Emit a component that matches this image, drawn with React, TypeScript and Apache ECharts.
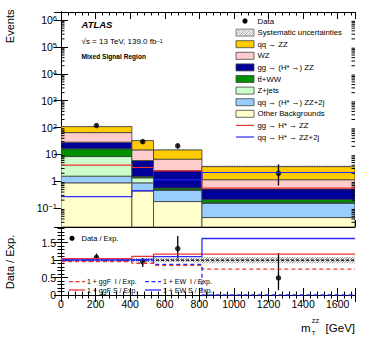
import React, { useEffect, useRef } from "react";
import * as echarts from "echarts";

// ---------------- data ----------------
const binEdges = [0, 410, 535, 815, 1700];

// stacked backgrounds, bottom -> top
const otherBackgrounds = [0.88, 0.44, 0.177, 0.045];
const qqZZ2jBkg = [0.68, 0.44, 0.29, 0.11];
const zJets = [6.8, 0.47, 0.01, 0.005];
const ttWW = [7.85, 0.16, 0.09, 0.05];
const ggZZ = [12.5, 4.42, 1.96, 0.31];
const wzBkg = [36.5, 8.87, 4.17, 0.63];
const qqZZ = [43.8, 18.1, 8.1, 2.41];

const sysRel = [0.05, 0.06, 0.06, 0.09];

const dataValues = [119, 30, 21, 2];
const dataLow = [108.5, 24.6, 16.4, 0.7];
const dataHigh = [130, 35.5, 25.6, 4.3];

const ggSignal = [4.0, 3.26, 2.45, 0.56];
const ewSignal = [0.27, 0.45, 1.14, 2.12];

const ratioData = [1.077, 0.95, 1.33, 0.49];
const ratioLow = [0.98, 0.8, 1.05, 0.14];
const ratioHigh = [1.19, 1.06, 1.69, 1.2];
const ggfInterference = [0.96, 0.91, 0.85, 0.74];
const ggfSignalRatio = [1.04, 1.11, 1.17, 1.17];
const ewInterference = [0.995, 0.985, 0.88, 0];
const ewSignalRatio = [1.01, 1.03, 1.1, 1.62];

const stackNames = [
  "Other Backgrounds",
  "qq → (H* →) ZZ+2j",
  "Z+jets",
  "tt̄+WW",
  "gg → (H* →) ZZ",
  "WZ",
  "qq → ZZ",
];
const stackColors = ["#ffffcc", "#99ccff", "#ccffcc", "#009100", "#000099", "#ffcccc", "#ffcc00"];
const stackValues = [otherBackgrounds, qqZZ2jBkg, zJets, ttWW, ggZZ, wzBkg, qqZZ];

const RED = "#ee3333";
const BLUE = "#2b2bff";
const FONT = "'Liberation Sans', Arial, Helvetica, sans-serif";

const Y_MIN = 0.02;
const Y_MAX = 2e6;
const X_MAX = 1700;

// ---------------- helpers ----------------
function hatchLines(L: number, T: number, R: number, B: number, step: number, stroke: string, lw: number) {
  const out: any[] = [];
  const c0 = Math.ceil((L + T) / step) * step;
  for (let c = c0; c < R + B; c += step) {
    const xa = Math.max(L, c - B);
    const xb = Math.min(R, c - T);
    if (xb > xa) {
      out.push({ type: "line", shape: { x1: xa, y1: c - xa, x2: xb, y2: c - xb }, style: { stroke, lineWidth: lw } });
    }
  }
  return out;
}

function rectRender(color: string) {
  return (_p: any, api: any) => {
    const a = api.coord([api.value(0), api.value(3)]);
    const b = api.coord([api.value(1), api.value(2)]);
    return {
      type: "rect",
      shape: { x: a[0], y: a[1], width: b[0] - a[0], height: b[1] - a[1] },
      style: { fill: color, stroke: "#3a3a3a", lineWidth: 0.8 },
    };
  };
}

function hatchRender(step: number) {
  return (_p: any, api: any) => {
    const a = api.coord([api.value(0), api.value(3)]);
    const b = api.coord([api.value(1), api.value(2)]);
    return { type: "group", children: hatchLines(a[0], a[1], b[0], b[1], step, "#555", 0.7) };
  };
}

function errRender(_p: any, api: any) {
  const a = api.coord([api.value(0), api.value(1)]);
  const b = api.coord([api.value(0), api.value(2)]);
  return { type: "line", shape: { x1: a[0], y1: a[1], x2: b[0], y2: b[1] }, style: { stroke: "#000", lineWidth: 1.3 } };
}

function stepData(vals: number[]) {
  const d = vals.map((v, i) => [binEdges[i], v]);
  d.push([binEdges[binEdges.length - 1], vals[vals.length - 1]]);
  return d;
}

function centers() {
  return binEdges.slice(0, -1).map((e, i) => (e + binEdges[i + 1]) / 2);
}

function buildOption() {
  const nb = binEdges.length - 1;
  const cum: number[][] = [];
  stackValues.forEach((vals, k) => {
    cum.push(vals.map((v, i) => (k === 0 ? 0 : cum[k - 1][i]) + v));
  });
  const total = cum[cum.length - 1];
  const xc = centers();

  const series: any[] = [];
  stackValues.forEach((_vals, k) => {
    const data = [];
    for (let i = 0; i < nb; i++) {
      const lo = k === 0 ? Y_MIN : cum[k - 1][i];
      data.push([binEdges[i], binEdges[i + 1], lo, cum[k][i]]);
    }
    series.push({
      type: "custom",
      name: stackNames[k],
      xAxisIndex: 0,
      yAxisIndex: 0,
      clip: true,
      encode: { x: [0, 1], y: [2, 3] },
      renderItem: rectRender(stackColors[k]),
      data,
    });
  });
  // systematic band main
  series.push({
    type: "custom",
    name: "Systematic uncertainties",
    xAxisIndex: 0,
    yAxisIndex: 0,
    clip: true,
    encode: { x: [0, 1], y: [2, 3] },
    renderItem: hatchRender(2.5),
    data: total.map((t, i) => [binEdges[i], binEdges[i + 1], t * (1 - sysRel[i]), t * (1 + sysRel[i])]),
  });
  series.push({
    type: "line",
    name: "gg → H* → ZZ",
    xAxisIndex: 0,
    yAxisIndex: 0,
    step: "end",
    showSymbol: false,
    lineStyle: { color: RED, width: 1.1 },
    data: stepData(ggSignal),
  });
  series.push({
    type: "line",
    name: "qq → H* → ZZ+2j",
    xAxisIndex: 0,
    yAxisIndex: 0,
    step: "end",
    showSymbol: false,
    lineStyle: { color: BLUE, width: 1.1 },
    data: stepData(ewSignal),
  });
  series.push({
    type: "custom",
    xAxisIndex: 0,
    yAxisIndex: 0,
    clip: true,
    encode: { x: 0, y: [1, 2] },
    renderItem: errRender,
    data: xc.map((x, i) => [x, dataLow[i], dataHigh[i]]),
  });
  series.push({
    type: "scatter",
    name: "Data",
    xAxisIndex: 0,
    yAxisIndex: 0,
    symbol: "circle",
    symbolSize: 5.5,
    itemStyle: { color: "#000" },
    data: xc.map((x, i) => [x, dataValues[i]]),
  });
  // log minor ticks (axis decoration)
  const minorVals: number[][] = [];
  for (let e = -2; e <= 6; e++) {
    for (let m = 2; m <= 9; m++) {
      const v = m * Math.pow(10, e);
      if (v > Y_MIN && v < Y_MAX) minorVals.push([0, v]);
    }
  }
  series.push({
    type: "custom",
    xAxisIndex: 0,
    yAxisIndex: 0,
    encode: { x: 0, y: 1 },
    renderItem: (_p: any, api: any) => {
      const l = api.coord([0, api.value(1)]);
      const r = api.coord([X_MAX, api.value(1)]);
      return {
        type: "group",
        children: [
          { type: "line", shape: { x1: l[0], y1: l[1], x2: l[0] + 3.5, y2: l[1] }, style: { stroke: "#000", lineWidth: 1 } },
          { type: "line", shape: { x1: r[0] - 3.5, y1: r[1], x2: r[0], y2: r[1] }, style: { stroke: "#000", lineWidth: 1 } },
        ],
      };
    },
    data: minorVals,
  });

  // ---------- ratio panel ----------
  series.push({
    type: "custom",
    xAxisIndex: 2,
    yAxisIndex: 2,
    clip: true,
    encode: { x: [0, 1], y: [2, 3] },
    renderItem: hatchRender(2.5),
    data: sysRel.map((s, i) => [binEdges[i], binEdges[i + 1], 1 - s, 1 + s]),
  });
  series.push({
    type: "line",
    xAxisIndex: 2,
    yAxisIndex: 2,
    showSymbol: false,
    lineStyle: { color: "#000", width: 1.2, type: [3, 2] },
    data: [
      [0, 1],
      [X_MAX, 1],
    ],
  });
  const ratioLines: [number[], string, any][] = [
    [ggfInterference, RED, [4, 3]],
    [ewInterference, BLUE, [4, 3]],
    [ggfSignalRatio, RED, "solid"],
    [ewSignalRatio, BLUE, "solid"],
  ];
  ratioLines.forEach(([vals, col, type]) => {
    series.push({
      type: "line",
      xAxisIndex: 2,
      yAxisIndex: 2,
      step: "end",
      showSymbol: false,
      lineStyle: { color: col, width: 1.3, type },
      data: stepData(vals),
    });
  });
  series.push({
    type: "custom",
    xAxisIndex: 2,
    yAxisIndex: 2,
    clip: true,
    encode: { x: 0, y: [1, 2] },
    renderItem: errRender,
    data: xc.map((x, i) => [x, ratioLow[i], ratioHigh[i]]),
  });
  series.push({
    type: "scatter",
    xAxisIndex: 2,
    yAxisIndex: 2,
    symbol: "circle",
    symbolSize: 5.5,
    itemStyle: { color: "#000" },
    data: xc.map((x, i) => [x, ratioData[i]]),
  });

  const tickStyle = { lineStyle: { color: "#000", width: 1 } };
  const xAxisBase = (grid: number, position: string, labels: boolean) => ({
    gridIndex: grid,
    type: "value",
    position,
    min: 0,
    max: X_MAX,
    interval: 200,
    axisLine: { lineStyle: { color: "#000", width: 1 } },
    axisTick: { inside: true, length: 7, ...tickStyle },
    minorTick: { show: true, splitNumber: 5, length: 3.5, ...tickStyle },
    splitLine: { show: false },
    minorSplitLine: { show: false },
    axisLabel: labels
      ? {
          show: true,
          fontSize: 10.5,
          color: "#000",
          fontFamily: FONT,
          margin: 3,
          showMaxLabel: false,
          formatter: (v: number) => String(Math.round(v)),
        }
      : { show: false },
  });
  const supRich = {
    base: { fontSize: 10.5, fontFamily: FONT, color: "#000" },
    sup: { fontSize: 7.5, fontFamily: FONT, color: "#000", verticalAlign: "top", padding: [0, 0, 2, 0] },
  };
  const yLog = (position: string, labels: boolean) => ({
    gridIndex: 0,
    type: "log",
    logBase: 10,
    position,
    min: Y_MIN,
    max: Y_MAX,
    splitNumber: 10,
    axisLine: { lineStyle: { color: "#000", width: 1 } },
    axisTick: { inside: true, length: 7, ...tickStyle },
    minorTick: { show: false },
    splitLine: { show: false },
    axisLabel: labels
      ? {
          show: true,
          margin: 4,
          showMinLabel: false,
          showMaxLabel: false,
          fontSize: 10.5,
          fontFamily: FONT,
          color: "#000",
          formatter: (v: number) => {
            const e = Math.round(Math.log10(v));
            if (e === 0) return "{base|1}";
            if (e === 1) return "{base|10}";
            return "{base|10}{sup|" + (e < 0 ? "−" + -e : String(e)) + "}";
          },
          rich: supRich,
        }
      : { show: false },
  });
  const yRatio = (position: string, labels: boolean) => ({
    gridIndex: 1,
    type: "value",
    position,
    min: 0,
    max: 1.95,
    interval: 0.5,
    axisLine: { lineStyle: { color: "#000", width: 1 } },
    axisTick: { inside: true, length: 7, ...tickStyle },
    minorTick: { show: true, splitNumber: 5, length: 3.5, ...tickStyle },
    splitLine: { show: false },
    minorSplitLine: { show: false },
    axisLabel: labels
      ? { show: true, fontSize: 10.5, fontFamily: FONT, color: "#000", margin: 5, showMaxLabel: false }
      : { show: false },
  });

  // ---------- legend (graphic) ----------
  const g: any[] = [];
  const lx0 = 236;
  const lx1 = 254;
  const ltx = 257.5;
  const ly0 = 21;
  const ldy = 11.6;
  const legendEntries: { name: string; kind: string; color?: string }[] = [
    { name: "Data", kind: "marker" },
    { name: "Systematic uncertainties", kind: "hatch" },
  ];
  for (let k = stackNames.length - 1; k >= 0; k--) legendEntries.push({ name: stackNames[k], kind: "box", color: stackColors[k] });
  legendEntries.push({ name: "gg → H* → ZZ", kind: "line", color: RED });
  legendEntries.push({ name: "qq → H* → ZZ+2j", kind: "line", color: BLUE });
  legendEntries.forEach((it, i) => {
    const y = ly0 + i * ldy;
    if (it.kind === "marker") {
      g.push({ type: "circle", shape: { cx: (lx0 + lx1) / 2, cy: y, r: 2.6 }, style: { fill: "#000" } });
    } else if (it.kind === "hatch") {
      g.push({ type: "rect", shape: { x: lx0, y: y - 3.5, width: lx1 - lx0, height: 7 }, style: { fill: "#fff", stroke: "#555", lineWidth: 0.7 } });
      hatchLines(lx0, y - 3.5, lx1, y + 3.5, 2.5, "#666", 0.6).forEach((l) => g.push(l));
    } else if (it.kind === "box") {
      g.push({ type: "rect", shape: { x: lx0, y: y - 3.5, width: lx1 - lx0, height: 7 }, style: { fill: it.color, stroke: "#444", lineWidth: 0.8 } });
    } else {
      g.push({ type: "line", shape: { x1: lx0, y1: y, x2: lx1, y2: y }, style: { stroke: it.color, lineWidth: 1.2 } });
    }
    g.push({ type: "text", x: ltx, y, style: { text: it.name, fontSize: 7.8, fontFamily: FONT, fill: "#000", verticalAlign: "middle" } });
  });

  // ratio legend
  g.push({ type: "circle", shape: { cx: 72, cy: 238.3, r: 2.6 }, style: { fill: "#000" } });
  g.push({ type: "text", x: 81.5, y: 238.3, style: { text: "Data / Exp.", fontSize: 7.5, fontFamily: FONT, fill: "#000", verticalAlign: "middle" } });
  const rLeg: [number, number, string, any, string][] = [
    [69, 281.7, RED, [4, 2.5], "1 + ggF  I / Exp."],
    [69, 290, RED, "solid", "1 + ggF S / Exp."],
    [145, 281.7, BLUE, [4, 2.5], "1 + EW  I / Exp."],
    [145, 290, BLUE, "solid", "1 + EW S / Exp."],
  ];
  rLeg.forEach(([x, y, col, type, txt]) => {
    g.push({ type: "line", shape: { x1: x, y1: y, x2: x + 16, y2: y }, style: { stroke: col, lineWidth: 1.3, lineDash: type === "solid" ? null : type } });
    g.push({ type: "text", x: x + 18, y, style: { text: txt, fontSize: 7, fontFamily: FONT, fill: "#000", verticalAlign: "middle" } });
  });

  // ATLAS labels
  g.push({ type: "text", x: 81.5, y: 24.5, style: { text: "ATLAS", fontSize: 9.5, fontWeight: "bold", fontStyle: "italic", fontFamily: FONT, fill: "#000", verticalAlign: "middle" } });
  g.push({
    type: "text",
    x: 81.5,
    y: 41.5,
    style: {
      text: "{b|√s = 13 TeV, 139.0 fb}{s|−1}",
      fontSize: 8,
      fontFamily: FONT,
      fill: "#000",
      verticalAlign: "middle",
      rich: {
        b: { fontSize: 8, fontFamily: FONT, fill: "#000" },
        s: { fontSize: 5.5, fontFamily: FONT, fill: "#000", verticalAlign: "top" },
      },
    },
  });
  g.push({ type: "text", x: 81.5, y: 56.7, style: { text: "Mixed Signal Region", fontSize: 6.6, fontWeight: "bold", fontFamily: FONT, fill: "#000", verticalAlign: "middle" } });

  // axis titles
  g.push({ type: "text", x: 9.5, y: 9.5, rotation: Math.PI / 2, style: { text: "Events", fontSize: 11, fontFamily: FONT, fill: "#000", align: "right", verticalAlign: "middle" } });
  g.push({ type: "text", x: 9.5, y: 262, rotation: Math.PI / 2, style: { text: "Data / Exp.", fontSize: 11, fontFamily: FONT, fill: "#000", align: "center", verticalAlign: "middle" } });
  g.push({ type: "text", x: 301, y: 327.5, style: { text: "m", fontSize: 11.5, fontFamily: FONT, fill: "#000", verticalAlign: "middle" } });
  g.push({ type: "text", x: 311.8, y: 320.5, style: { text: "ZZ", fontSize: 6, fontFamily: FONT, fill: "#000", verticalAlign: "middle" } });
  g.push({ type: "text", x: 311.8, y: 333, style: { text: "T", fontSize: 6, fontFamily: FONT, fill: "#000", verticalAlign: "middle" } });
  g.push({ type: "text", x: 355, y: 327.5, style: { text: "[GeV]", fontSize: 11.5, fontFamily: FONT, fill: "#000", align: "right", verticalAlign: "middle" } });

  return {
    animation: false,
    backgroundColor: "#fff",
    grid: [
      { left: 61, top: 12, width: 294, height: 215, containLabel: false },
      { left: 61, top: 227, width: 294, height: 68, containLabel: false },
    ],
    xAxis: [xAxisBase(0, "bottom", false), xAxisBase(0, "top", false), xAxisBase(1, "bottom", true), xAxisBase(1, "top", false)],
    yAxis: [yLog("left", true), yLog("right", false), yRatio("left", true), yRatio("right", false)],
    series,
    graphic: [{ type: "group", children: g }],
  };
}

export default function App() {
  const ref = useRef<HTMLDivElement>(null);
  useEffect(() => {
    if (!ref.current) return;
    const chart = echarts.init(ref.current, null, { renderer: "svg" });
    chart.setOption(buildOption() as any);
    return () => chart.dispose();
  }, []);
  return <div ref={ref} style={{ position: "absolute", left: 0, top: 0, width: 374, height: 339 }} />;
}
